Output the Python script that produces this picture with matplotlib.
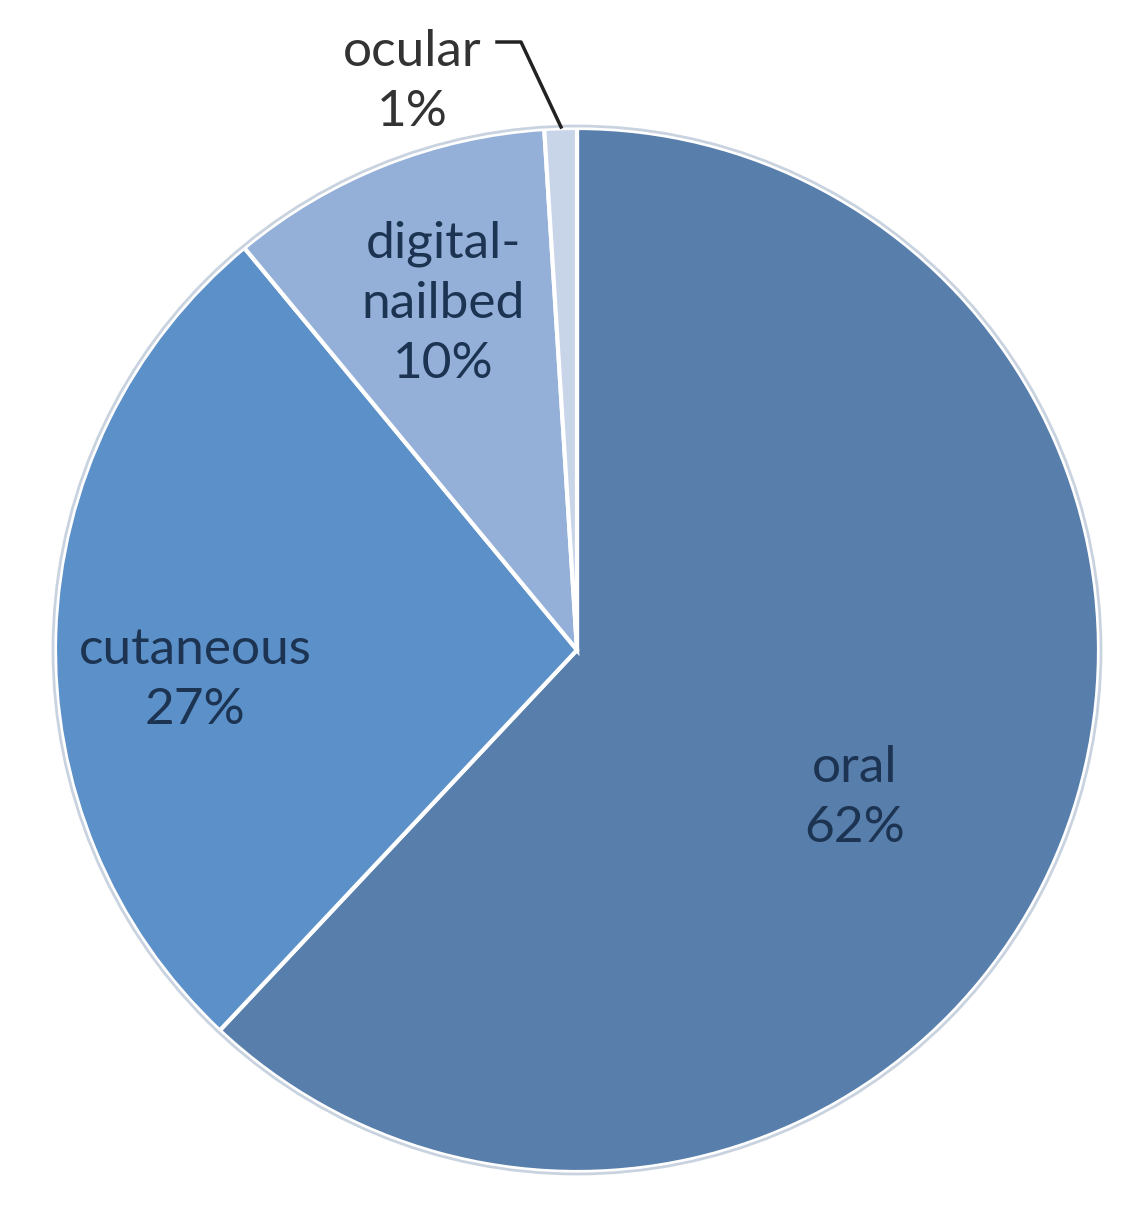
import matplotlib.pyplot as plt

# data
categories = ['oral', 'cutaneous', 'digital-\nnailbed', 'ocular']
shares = [62, 27, 10, 1]
colors = ['#587eac', '#5c90c8', '#94b0d8', '#c8d4e8']

plt.rcParams['font.family'] = ['Lato', 'DejaVu Sans']

W, H = 1148, 1222
fig = plt.figure(figsize=(W / 100, H / 100), dpi=100)
ax = fig.add_axes([0, 0, 1, 1])

cx, cy, r = 577, H - 650, 522
wedges, _ = ax.pie(shares, colors=colors, startangle=90, counterclock=False,
                   center=(cx, cy), radius=r, frame=True,
                   wedgeprops=dict(edgecolor='white', linewidth=3))
ax.set_xlim(0, W)
ax.set_ylim(0, H)
ax.set_aspect('equal')
ax.axis('off')

# outer rim
circ = plt.Circle((cx, cy), r + 2, fill=False, edgecolor='#c9d3e0', linewidth=2)
ax.add_patch(circ)

txt = '#1c3352'
fs = 37
ls = 1.38
ax.text(855, H - 798, 'oral\n62%', ha='center', va='center', fontsize=fs,
        color=txt, linespacing=ls)
ax.text(195, H - 680, 'cutaneous\n27%', ha='center', va='center', fontsize=fs,
        color=txt, linespacing=ls)
ax.text(443, H - 304, 'digital-\nnailbed\n10%', ha='center', va='center',
        fontsize=fs, color=txt, linespacing=ls)
ax.text(412, H - 82, 'ocular\n1%', ha='center', va='center', fontsize=fs,
        color='#333333', linespacing=ls)

# leader line for ocular
ax.plot([497, 521, 561], [H - 42, H - 42, H - 127], color='#222222', lw=2.5)

fig.savefig('out.png', dpi=100, facecolor='white')
